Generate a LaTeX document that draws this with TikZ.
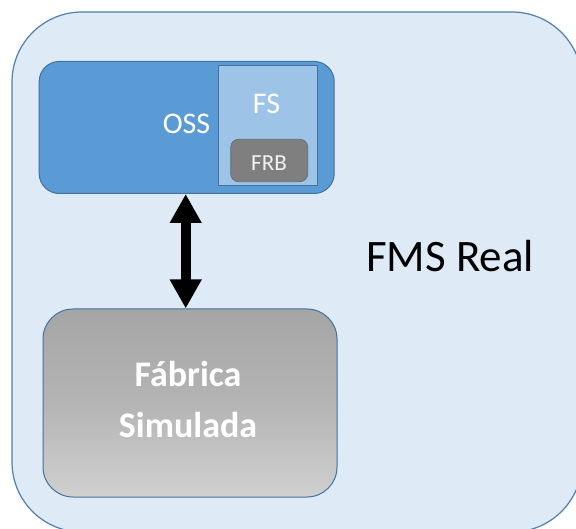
\documentclass[tikz,border=0pt]{standalone}
\usepackage{fontspec}
\setmainfont{Carlito}
\usetikzlibrary{arrows.meta}
\definecolor{paneFill}{HTML}{DEEBF7}
\definecolor{paneLine}{HTML}{4F7FB0}
\definecolor{ossFill}{HTML}{5B9BD5}
\definecolor{ossLine}{HTML}{41719C}
\definecolor{fsFill}{HTML}{9DC3E6}
\definecolor{frbFill}{HTML}{7F7F7F}
\definecolor{frbLine}{HTML}{5F6F7F}
\definecolor{fabTop}{HTML}{A5A5A5}
\definecolor{fabMid}{HTML}{B4B4B4}
\definecolor{fabBot}{HTML}{D0D0D0}
\tikzset{
  box/.style={draw, rectangle, inner sep=0pt, line width=1pt},
  label/.style={inner sep=0pt, text=white},
}
\begin{document}
\begin{tikzpicture}[x=1pt,y=-1pt]
\useasboundingbox (0,0) rectangle (576,529);
\clip (0,0) rectangle (576,529);
\fill[white] (0,0) rectangle (576,529);
% outer FMS pane, running past the right and bottom edges
\node[box, draw=paneLine, fill=paneFill, line width=1.2pt, rounded corners=70pt,
      minimum width=570pt, minimum height=520pt] (fms) at (297,272) {};
% OSS block with its FS part and the FRB inside it
\node[box, draw=ossLine, fill=ossFill, rounded corners=20pt,
      minimum width=295pt, minimum height=132pt] (oss) at (186.7,127.5) {};
\node[box, draw=ossLine, fill=fsFill, line width=1.2pt,
      minimum width=99pt, minimum height=120pt] (fs) at (267.8,125.8) {};
\node[box, draw=frbLine, fill=frbFill, line width=0.8pt, rounded corners=8pt,
      minimum width=77pt, minimum height=42.4pt] (frb) at (269.2,160.5) {};
\node[label, font=\fontsize{30}{30}\selectfont] (ossText) at (186.5,124) {OSS};
\node[label, font=\fontsize{30}{30}\selectfont] (fsText) at (266.5,104) {FS};
\node[label, text=white!95!black, font=\fontsize{23}{23}\selectfont] (frbText) at (269,163) {FRB};
% simulated factory block
\node[box, draw=ossLine, rounded corners=30pt, top color=fabTop, bottom color=fabBot,
      middle color=fabMid, minimum width=294pt, minimum height=188pt] (fab) at (190,403) {};
\node[label, align=center, font=\fontsize{36}{51}\selectfont\bfseries] (fabText) at (188,400) {Fábrica\\Simulada};
% pane title
\node[inner sep=0pt, text=black, font=\fontsize{45}{45}\selectfont] (fmsText) at (450,256) {FMS Real};
% two-way link between OSS and the simulated factory
\draw[line width=10pt, {Triangle[width=30pt,length=29pt]}-{Triangle[width=30pt,length=29pt]}]
  ([xshift=-1pt]oss.south) -- ([xshift=-1pt]oss.south |- fab.north);
\end{tikzpicture}
\end{document}
